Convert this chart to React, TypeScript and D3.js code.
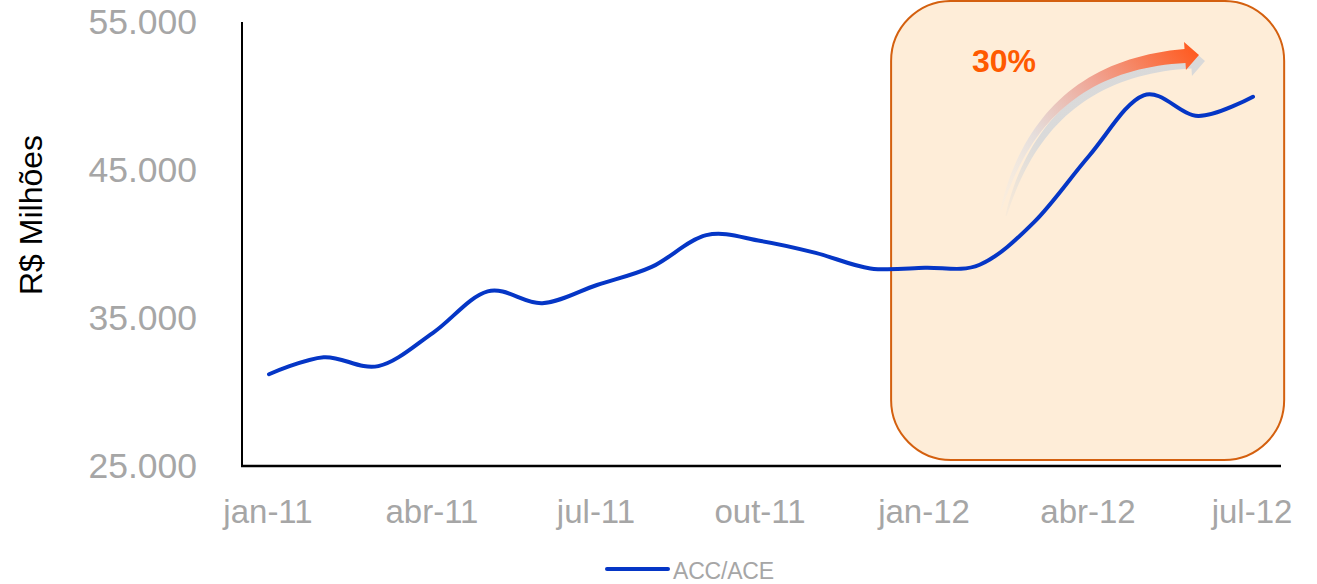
import * as React from 'react';
import { useEffect, useRef } from 'react';
import * as d3 from 'd3';

// Data (R$ milhões, monthly)
const months = [
  'jan-11', 'fev-11', 'mar-11', 'abr-11', 'mai-11', 'jun-11', 'jul-11', 'ago-11', 'set-11', 'out-11',
  'nov-11', 'dez-11', 'jan-12', 'fev-12', 'mar-12', 'abr-12', 'mai-12', 'jun-12', 'jul-12',
];
const accAce = [
  31200, 32350, 31750, 34000, 36800, 36000, 37230, 38450, 40600, 40200,
  39400, 38350, 38400, 38600, 41500, 45950, 50050, 48650, 49950,
];
const xTickLabels = ['jan-11', 'abr-11', 'jul-11', 'out-11', 'jan-12', 'abr-12', 'jul-12'];
const yTicks = [25000, 35000, 45000, 55000];
const seriesName = 'ACC/ACE';
const growthLabel = '30%';

const W = 1317;
const H = 584;

const fmt = (v: number) => d3.format(',')(v).replace(/,/g, '.');

// tapered curved band along a quadratic bezier
function taperedArrow(p0: number[], p1: number[], p2: number[], w0: number, w1: number, headLen: number, headHalf: number) {
  const n = 40;
  const left: number[][] = [];
  const right: number[][] = [];
  let end = p2, dir = [1, 0];
  for (let i = 0; i <= n; i++) {
    const t = i / n;
    const x = (1 - t) * (1 - t) * p0[0] + 2 * (1 - t) * t * p1[0] + t * t * p2[0];
    const y = (1 - t) * (1 - t) * p0[1] + 2 * (1 - t) * t * p1[1] + t * t * p2[1];
    const dx = 2 * (1 - t) * (p1[0] - p0[0]) + 2 * t * (p2[0] - p1[0]);
    const dy = 2 * (1 - t) * (p1[1] - p0[1]) + 2 * t * (p2[1] - p1[1]);
    const len = Math.hypot(dx, dy);
    const nx = -dy / len, ny = dx / len;
    const w = (w0 + (w1 - w0) * Math.pow(t, 0.7)) / 2;
    left.push([x + nx * w, y + ny * w]);
    right.push([x - nx * w, y - ny * w]);
    if (i === n) { end = [x, y]; dir = [dx / len, dy / len]; }
  }
  const nx = -dir[1], ny = dir[0];
  const head = [
    [end[0] + nx * headHalf, end[1] + ny * headHalf],
    [end[0] + dir[0] * headLen, end[1] + dir[1] * headLen],
    [end[0] - nx * headHalf, end[1] - ny * headHalf],
  ];
  const pts = [...left, head[0], head[1], head[2], ...right.reverse()];
  return d3.line()(pts as [number, number][]) + 'Z';
}

const App: React.FC = () => {
  const svgRef = useRef<SVGSVGElement>(null);

  useEffect(() => {
    const svg = d3.select(svgRef.current);
    svg.selectAll('*').remove();

    const x = d3.scaleLinear().domain([0, months.length - 1]).range([269, 1253]);
    const y = d3.scaleLinear().domain([25000, 55000]).range([466, 22]);

    const defs = svg.append('defs');
    const grad = defs.append('linearGradient')
      .attr('id', 'arrowGrad')
      .attr('gradientUnits', 'userSpaceOnUse')
      .attr('x1', 1000).attr('y1', 215).attr('x2', 1200).attr('y2', 55);
    grad.append('stop').attr('offset', 0).attr('stop-color', '#eeeeee').attr('stop-opacity', 0.1);
    grad.append('stop').attr('offset', 0.3).attr('stop-color', '#e2dcdc').attr('stop-opacity', 0.9);
    grad.append('stop').attr('offset', 0.62).attr('stop-color', '#f0a392');
    grad.append('stop').attr('offset', 1).attr('stop-color', '#ff5a1f');

    const sgrad = defs.append('linearGradient')
      .attr('id', 'shadowGrad')
      .attr('gradientUnits', 'userSpaceOnUse')
      .attr('x1', 1000).attr('y1', 215).attr('x2', 1200).attr('y2', 55);
    sgrad.append('stop').attr('offset', 0).attr('stop-color', '#dadada').attr('stop-opacity', 0.1);
    sgrad.append('stop').attr('offset', 0.3).attr('stop-color', '#dadada').attr('stop-opacity', 1);
    sgrad.append('stop').attr('offset', 1).attr('stop-color', '#d9d9d9').attr('stop-opacity', 1);

    // highlight box (dez-11 onward)
    const bx0 = x(11.38), bx1 = x(18.57);
    const by0 = y(56420), by1 = y(25400);
    svg.append('rect')
      .attr('x', bx0).attr('y', by0)
      .attr('width', bx1 - bx0).attr('height', by1 - by0)
      .attr('rx', 60).attr('ry', 60)
      .attr('fill', '#feedd8')
      .attr('stroke', '#d4600f')
      .attr('stroke-width', 2);

    // axes
    svg.append('line')
      .attr('x1', 242).attr('x2', 242).attr('y1', y(55000)).attr('y2', y(25000))
      .attr('stroke', '#000').attr('stroke-width', 2);
    svg.append('line')
      .attr('x1', 241).attr('x2', 1281).attr('y1', y(25000)).attr('y2', y(25000))
      .attr('stroke', '#000').attr('stroke-width', 2.5);

    svg.append('g')
      .selectAll('text')
      .data(yTicks)
      .enter().append('text')
      .attr('x', 197)
      .attr('y', d => y(d) + 12)
      .attr('text-anchor', 'end')
      .attr('font-family', 'Liberation Sans, Arial, sans-serif')
      .attr('font-size', 35.5)
      .attr('fill', '#a6a6a6')
      .text(d => fmt(d));

    svg.append('g')
      .selectAll('text')
      .data(xTickLabels)
      .enter().append('text')
      .attr('x', d => x(months.indexOf(d)) - 1)
      .attr('y', 523)
      .attr('text-anchor', 'middle')
      .attr('font-family', 'Liberation Sans, Arial, sans-serif')
      .attr('font-size', 33)
      .attr('fill', '#a6a6a6')
      .text(d => d);

    svg.append('text')
      .attr('transform', `translate(42,215) rotate(-90)`)
      .attr('text-anchor', 'middle')
      .attr('font-family', 'Liberation Sans, Arial, sans-serif')
      .attr('font-size', 32)
      .attr('fill', '#000')
      .text('R$ Milhões');

    // growth arrow
    const shadow = taperedArrow([1006, 216], [1045, 72], [1191, 62], 1, 13, 14, 14);
    svg.append('path').attr('d', shadow).attr('fill', 'url(#shadowGrad)');
    const arrow = taperedArrow([1001, 210], [1040, 66], [1185, 56], 1, 14, 14, 14);
    svg.append('path').attr('d', arrow).attr('fill', 'url(#arrowGrad)');

    svg.append('text')
      .attr('x', 972).attr('y', 72)
      .attr('font-family', 'Liberation Sans, Arial, sans-serif')
      .attr('font-size', 32)
      .attr('font-weight', 'bold')
      .attr('fill', '#ff5a00')
      .text(growthLabel);

    // series line
    const line = d3.line<number>()
      .x((_, i) => x(i))
      .y(d => y(d))
      .curve(d3.curveCardinal.tension(0));
    svg.append('path')
      .datum(accAce)
      .attr('fill', 'none')
      .attr('stroke', '#0536c6')
      .attr('stroke-width', 4)
      .attr('stroke-linecap', 'round')
      .attr('d', line);

    // legend
    const legend = svg.append('g').attr('transform', 'translate(607,569)');
    legend.append('line')
      .attr('x1', 0).attr('x2', 61).attr('y1', 0).attr('y2', 0)
      .attr('stroke', '#0536c6').attr('stroke-width', 4).attr('stroke-linecap', 'round');
    legend.append('text')
      .attr('x', 66).attr('y', 10)
      .attr('font-family', 'Liberation Sans, Arial, sans-serif')
      .attr('font-size', 23)
      .attr('letter-spacing', -0.2)
      .attr('fill', '#a6a6a6')
      .text(seriesName);
  }, []);

  return (
    <svg
      ref={svgRef}
      width={W}
      height={H}
      style={{ position: 'absolute', left: 0, top: 0, background: '#fff' }}
    />
  );
};

export default App;
